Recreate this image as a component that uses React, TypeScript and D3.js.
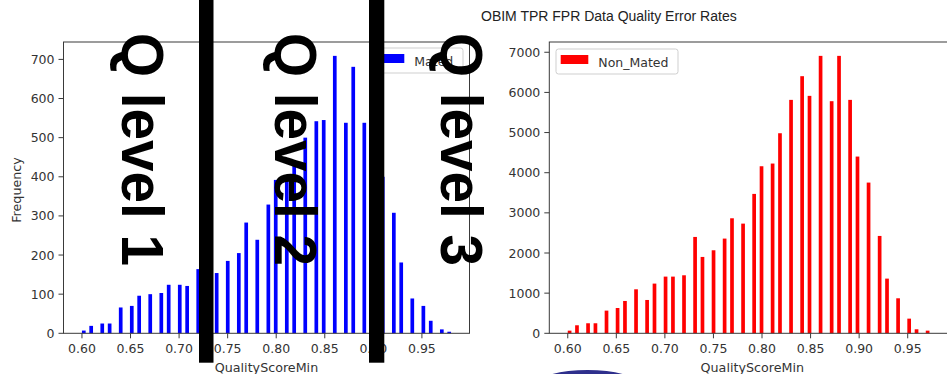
import React from "react";
import * as d3 from "d3";

const scores = [0.60, 0.61, 0.62, 0.63, 0.64, 0.65, 0.66, 0.67, 0.68, 0.69, 0.70, 0.71, 0.72, 0.73, 0.74, 0.75, 0.76, 0.77, 0.78, 0.79, 0.80, 0.81, 0.82, 0.83, 0.84, 0.85, 0.86, 0.87, 0.88, 0.89, 0.90, 0.91, 0.92, 0.93, 0.94, 0.95, 0.96, 0.97, 0.98];
const mated = [7, 19, 25, 25, 66, 70, 96, 100, 103, 124, 124, 121, 164, 170, 154, 185, 205, 283, 239, 329, 392, 390, 430, 500, 542, 545, 709, 538, 681, 538, 484, 400, 308, 181, 89, 70, 32, 10, 4];
const nonMated = [66, 200, 250, 250, 565, 630, 805, 1096, 830, 1238, 1412, 1412, 1445, 2400, 1902, 2068, 2359, 2865, 2732, 3472, 4161, 4228, 4983, 5814, 6404, 5914, 6910, 5781, 6910, 5814, 4402, 3754, 2425, 1362, 872, 365, 100, 66, 0];
const xTicks = [0.60, 0.65, 0.70, 0.75, 0.80, 0.85, 0.90, 0.95];
const matedYTicks = [0, 100, 200, 300, 400, 500, 600, 700];
const nonMatedYTicks = [0, 1000, 2000, 3000, 4000, 5000, 6000, 7000];
const levelLabels = ["Q level 1", "Q level 2", "Q level 3"];
const title = "OBIM TPR FPR Data Quality Error Rates";

const BIN_MIN = 0.6;
const BIN_MAX = 0.98;
const N_BINS = 100;
const BIN_W = (BIN_MAX - BIN_MIN) / N_BINS;

const W = 947;
const H = 374;
const TOP = 42;
const BOTTOM = 333.3;
const AXW = 406;
const TICK_FONT = "DejaVu Sans, sans-serif";

function binLeft(v: number) {
  let i = Math.floor((v - BIN_MIN) / BIN_W + 1e-9);
  if (i >= N_BINS) i = N_BINS - 1;
  return BIN_MIN + i * BIN_W;
}

function Legend({ x, y, w, label, color }: any) {
  return (
    <g>
      <rect x={x} y={y} width={w} height={25} rx={2.5} fill="#fff" fillOpacity={0.8} stroke="#cfcfcf" />
      <rect x={x + 4.7} y={y + 6} width={27.6} height={9} fill={color} />
      <text x={x + 42.3} y={y + 17.5} fontFamily={TICK_FONT} fontSize={12.5} fill="#333">{label}</text>
    </g>
  );
}

function Chart({ x0, values, yTicks, color, ylabel }: any) {
  const margin = (BIN_MAX - BIN_MIN) * 0.05;
  const x = d3.scaleLinear().domain([BIN_MIN - margin, BIN_MAX + margin]).range([x0, x0 + AXW]);
  const ymax = (d3.max(values as number[]) as number) * 1.05;
  const y = d3.scaleLinear().domain([0, ymax]).range([BOTTOM, TOP]);
  return (
    <g>
      {scores.map((s, i) => {
        const l = binLeft(s);
        return (
          <rect key={i} x={x(l)} y={y(values[i])} width={x(l + BIN_W) - x(l)} height={BOTTOM - y(values[i])} fill={color} />
        );
      })}
      <rect x={x0} y={TOP} width={AXW} height={BOTTOM - TOP} fill="none" stroke="#3a3a3a" strokeWidth={1} />
      {yTicks.map((t: number) => (
        <g key={t}>
          <line x1={x0 - 5} x2={x0} y1={y(t)} y2={y(t)} stroke="#3a3a3a" />
          <text x={x0 - 9} y={y(t)} dy="0.36em" textAnchor="end" fontFamily={TICK_FONT} fontSize={12.5} fill="#333">{t}</text>
        </g>
      ))}
      {xTicks.map((t) => (
        <g key={t}>
          <line x1={x(t)} x2={x(t)} y1={BOTTOM} y2={BOTTOM + 5} stroke="#3a3a3a" />
          <text x={x(t)} y={352.8} textAnchor="middle" fontFamily={TICK_FONT} fontSize={12.5} fill="#333">{t.toFixed(2)}</text>
        </g>
      ))}
      <text x={x0 + AXW / 2} y={371.5} textAnchor="middle" fontFamily={TICK_FONT} fontSize={12.7} fill="#333">QualityScoreMin</text>
      {ylabel && (
        <text transform={`translate(21,190) rotate(-90)`} textAnchor="middle" fontFamily={TICK_FONT} fontSize={12.7} fill="#333">{ylabel}</text>
      )}
    </g>
  );
}

export default function App() {
  const bigFont = "Liberation Sans, Arial, sans-serif";
  const levelX = [121.5, 275, 440.5];
  return (
    <svg width={W} height={H} style={{ position: "absolute", left: 0, top: 0, background: "#fff" }}>
      <rect x={0} y={0} width={W} height={H} fill="#fff" />
      <text x={481} y={21} fontFamily={bigFont} fontSize={14} fill="#222">{title}</text>
      <Chart x0={63.5} values={mated} yTicks={matedYTicks} color="#0000ff" ylabel="Frequency" />
      <Legend x={372} y={48} w={91} label="Mated" color="#0000ff" />
      <Chart x0={549.3} values={nonMated} yTicks={nonMatedYTicks} color="#ff0000" />
      <Legend x={556} y={49} w={122} label="Non_Mated" color="#ff0000" />
      <rect x={199} y={0} width={14.5} height={362.7} fill="#000" />
      <rect x={369} y={0} width={15.3} height={362.7} fill="#000" />
      {levelLabels.map((t, i) => (
        <text key={t} transform={`translate(${levelX[i]},33) rotate(90)`} fontFamily={bigFont} fontWeight="bold" fontSize={59.5} textLength={233} lengthAdjust="spacingAndGlyphs" fill="#000">{t}</text>
      ))}
      <ellipse cx={587.5} cy={384} rx={50} ry={14} fill="#2e2f8c" />
    </svg>
  );
}
